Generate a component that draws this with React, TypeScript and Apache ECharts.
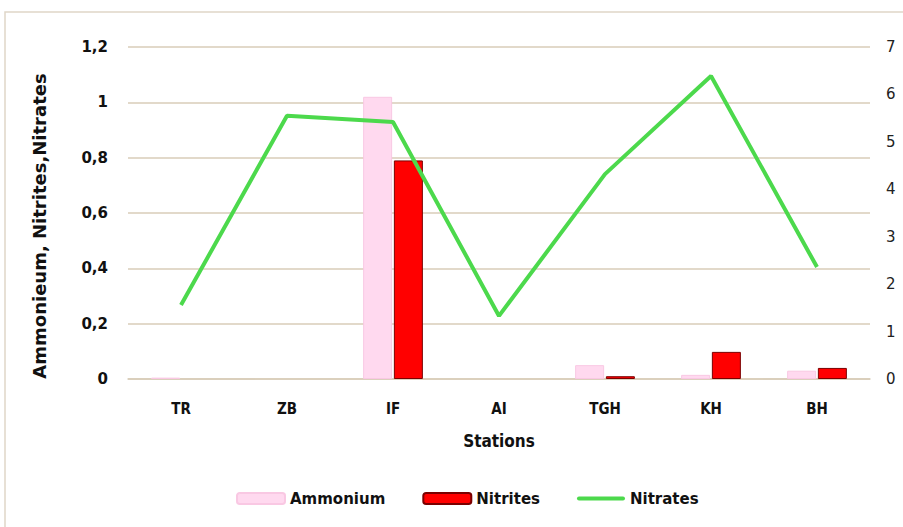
import React, { useEffect, useRef } from "react";
import * as echarts from "echarts";

const categories = ["TR", "ZB", "IF", "AI", "TGH", "KH", "BH"];
const ammonium = [0.005, 0, 1.02, 0, 0.05, 0.015, 0.03];
const nitrites = [0, 0, 0.79, 0, 0.01, 0.098, 0.04];
const nitrates = [1.56, 5.55, 5.42, 1.33, 4.32, 6.39, 2.36];
const leftTicks = ["0", "0,2", "0,4", "0,6", "0,8", "1", "1,2"];

const hideZero = (arr: number[]) => arr.map((v) => (v === 0 ? "-" : v));

export default function App() {
  const ref = useRef<HTMLDivElement>(null);
  useEffect(() => {
    const chart = echarts.init(ref.current!, null, { renderer: "svg" });
    const grid = "#d8ccb8";
    chart.setOption({
      animation: false,
      backgroundColor: "#ffffff",
      textStyle: { fontFamily: "DejaVu Sans" },
      graphic: [
        {
          type: "rect",
          shape: { x: 5, y: 12, width: 1000, height: 1000 },
          style: { fill: "none", stroke: "#e0d6c8", lineWidth: 1.5 },
          silent: true,
        },
      ],
      grid: { left: 128, right: 33, top: 47, bottom: 148 },
      legend: {
        left: 231,
        top: 486,
        itemGap: 37,
        itemWidth: 48,
        itemHeight: 11,
        textStyle: { fontSize: 15, fontWeight: "bold", color: "#111", fontFamily: "DejaVu Sans" },
        data: [
          { name: "Ammonium" },
          { name: "Nitrites" },
          {
            name: "Nitrates",
            icon: "path://M2,0 H46 A2,2 0 0 1 46,4 H2 A2,2 0 0 1 2,0 Z",
            itemStyle: { color: "#4cd94c" },
          },
        ],
      },
      xAxis: {
        type: "category",
        data: categories,
        name: "Stations",
        nameLocation: "middle",
        nameGap: 53,
        nameTextStyle: { fontSize: 17, fontWeight: "bold", color: "#111", fontFamily: "DejaVu Sans Condensed, DejaVu Sans" },
        axisLine: { lineStyle: { color: grid, width: 1.5 } },
        axisTick: { show: false },
        axisLabel: { fontSize: 15, fontWeight: "bold", color: "#111", margin: 22, fontFamily: "DejaVu Sans Condensed, DejaVu Sans" },
      },
      yAxis: [
        {
          type: "value",
          min: 0,
          max: 1.2,
          interval: 0.2,
          name: "Ammonieum, Nitrites,Nitrates",
          nameLocation: "middle",
          nameRotate: 90,
          nameGap: 80,
          nameTextStyle: {
            fontSize: 18,
            fontWeight: "bold",
            color: "#111",
            fontFamily: "DejaVu Sans",
            padding: [0, 26, 0, 0],
          },
          axisLabel: {
            fontSize: 15,
            fontWeight: "bold",
            color: "#111",
            margin: 20,
            formatter: (v: number) => leftTicks[Math.round(v / 0.2)],
          },
          axisLine: { show: false },
          axisTick: { show: false },
          splitLine: { lineStyle: { color: grid, width: 1.5 } },
        },
        {
          type: "value",
          min: 0,
          max: 7,
          interval: 1,
          position: "right",
          axisLabel: { fontSize: 15, color: "#222", margin: 16 },
          axisLine: { show: false },
          axisTick: { show: false },
          splitLine: { show: false },
        },
      ],
      series: [
        {
          name: "Ammonium",
          type: "bar",
          data: hideZero(ammonium),
          barWidth: 29,
          barGap: "6%",
          itemStyle: { color: "#ffd9ef", borderColor: "#f9c8e3", borderWidth: 1 },
        },
        {
          name: "Nitrites",
          type: "bar",
          data: hideZero(nitrites),
          barWidth: 29,
          itemStyle: { color: "#ff0000", borderColor: "#7a0000", borderWidth: 1 },
        },
        {
          name: "Nitrates",
          type: "line",
          yAxisIndex: 1,
          data: nitrates,
          symbol: "none",
          lineStyle: { color: "#4cd94c", width: 4 },
          itemStyle: { color: "#4cd94c" },
          z: 5,
        },
      ],
    });
    return () => chart.dispose();
  }, []);
  return <div ref={ref} style={{ width: 903, height: 527, position: "absolute", left: 0, top: 0 }} />;
}
